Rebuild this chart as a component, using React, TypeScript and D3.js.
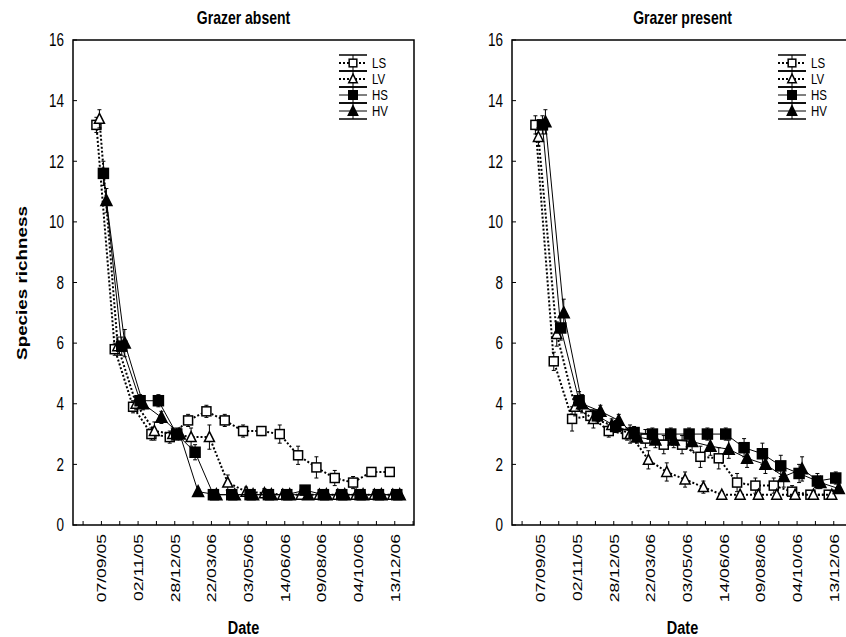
import React from "react";
import * as d3 from "d3";

// Tick positions 0..18; sampling dates sit at positions 1..17
const tickLabels = ["", "07/09/05", "", "02/11/05", "", "28/12/05", "", "22/03/06", "", "03/05/06", "", "14/06/06", "", "09/08/06", "", "04/10/06", "", "13/12/06", ""];
const seriesNames = ["LS", "LV", "HS", "HV"];
const yTicks = [0, 2, 4, 6, 8, 10, 12, 14, 16];

// Grazer absent
const absentLS = [13.2, 5.8, 3.9, 3.0, 2.9, 3.45, 3.75, 3.45, 3.1, 3.1, 3.0, 2.3, 1.9, 1.55, 1.4, 1.75, 1.75];
const absentLV = [13.4, 5.9, 4.0, 3.1, 3.0, 2.9, 2.9, 1.4, 1.1, 1.05, 1.0, 1.0, 1.0, 1.0, 1.0, 1.0, 1.0];
const absentHS = [11.6, 5.9, 4.1, 4.1, 3.0, 2.4, 1.0, 1.0, 1.0, 1.0, 1.0, 1.15, 1.0, 1.0, 1.0, 1.0, 1.0];
const absentHV = [10.7, 6.0, 4.0, 3.55, 3.0, 1.1, 1.0, 1.0, 1.0, 1.0, 1.0, 1.0, 1.0, 1.0, 1.0, 1.0, 1.0];
const absentLSe = [0.25, 0.2, 0.2, 0.2, 0.2, 0.2, 0.2, 0.2, 0.2, 0.15, 0.3, 0.3, 0.35, 0.25, 0.2, 0.1, 0.1];
const absentLVe = [0.3, 0.3, 0.2, 0.3, 0.2, 0.3, 0.4, 0.25, 0.15, 0.15, 0.1, 0.15, 0.15, 0.15, 0.15, 0.1, 0.1];
const absentHSe = [0.4, 0.3, 0.2, 0.2, 0.2, 0.25, 0.05, 0.05, 0.05, 0.05, 0.05, 0.15, 0.05, 0.05, 0.05, 0.05, 0.05];
const absentHVe = [0.4, 0.45, 0.2, 0.2, 0.2, 0.1, 0.05, 0.05, 0.05, 0.05, 0.05, 0.05, 0.05, 0.05, 0.05, 0.05, 0.05];

// Grazer present
const presentLS = [13.2, 5.4, 3.5, 3.6, 3.1, 3.0, 2.85, 2.65, 2.65, 2.25, 2.2, 1.4, 1.3, 1.3, 1.1, 1.0, 1.0];
const presentLV = [12.8, 6.3, 3.9, 3.5, 3.3, 3.0, 2.15, 1.75, 1.5, 1.25, 1.0, 1.0, 1.0, 1.0, 1.0, 1.0, 1.0];
const presentHS = [13.2, 6.5, 4.1, 3.6, 3.25, 3.05, 3.0, 3.0, 3.0, 3.0, 3.0, 2.55, 2.35, 1.95, 1.7, 1.45, 1.55];
const presentHV = [13.3, 7.0, 4.0, 3.75, 3.45, 2.9, 2.8, 2.8, 2.75, 2.6, 2.5, 2.2, 2.0, 1.6, 1.85, 1.4, 1.2];
const presentLSe = [0.3, 0.3, 0.4, 0.2, 0.2, 0.2, 0.3, 0.3, 0.3, 0.35, 0.35, 0.3, 0.25, 0.25, 0.2, 0.1, 0.1];
const presentLVe = [0.3, 0.4, 0.3, 0.3, 0.2, 0.3, 0.3, 0.3, 0.25, 0.2, 0.1, 0.1, 0.15, 0.15, 0.1, 0.1, 0.1];
const presentHSe = [0.3, 0.4, 0.3, 0.2, 0.2, 0.2, 0.2, 0.2, 0.2, 0.2, 0.2, 0.3, 0.35, 0.35, 0.3, 0.25, 0.2];
const presentHVe = [0.4, 0.45, 0.3, 0.2, 0.2, 0.2, 0.25, 0.25, 0.3, 0.3, 0.3, 0.3, 0.3, 0.35, 0.4, 0.2, 0.15];

const W = 846;
const H = 637;
const FONT = "Arial, 'Liberation Sans', sans-serif";
const SY = 1.3; // vertical stretch of the text in the original picture

const styles: Record<string, { offset: number; dash: string | null; width: number; marker: string; filled: boolean }> = {
  LS: { offset: -5, dash: "2,2", width: 2, marker: "square", filled: false },
  LV: { offset: -2, dash: "2,2", width: 2, marker: "triangle", filled: false },
  HS: { offset: 2, dash: null, width: 1, marker: "square", filled: true },
  HV: { offset: 5, dash: null, width: 1, marker: "triangle", filled: true },
};

function Marker({ kind, filled, x, y, s = 1 }: { kind: string; filled: boolean; x: number; y: number; s?: number }) {
  if (kind === "square") {
    const a = (filled ? 10 : 9) * s;
    return <rect x={x - a / 2} y={y - a / 2} width={a} height={a} fill={filled ? "#000" : "#fff"} stroke="#000" strokeWidth={1.5} />;
  }
  const a = (filled ? 11 : 10) * s;
  const h = a * 0.9;
  const p = `M${x},${y - h / 2 - 1}L${x + a / 2},${y + h / 2}L${x - a / 2},${y + h / 2}Z`;
  return <path d={p} fill={filled ? "#000" : "#fff"} stroke="#000" strokeWidth={1.5} strokeLinejoin="miter" />;
}

function Panel({ x0, x1, title, data, errs, showYLabel }: { x0: number; x1: number; title: string; data: number[][]; errs: number[][]; showYLabel: boolean }) {
  const y = d3.scaleLinear().domain([0, 16]).range([525, 40]);
  const x = d3.scaleLinear().domain([-0.55, 18.05]).range([x0, x1]);
  const cx = (x0 + Math.min(x1, 414 + (x0 - 73))) / 2;
  const ticksIdx = d3.range(0, 19);
  const legX = x0 + 280;
  return (
    <g>
      {/* frame */}
      <path d={`M${x0},${y(0)}L${x1},${y(0)}L${x1},${y(16)}L${x0},${y(16)}Z`} fill="none" stroke="#000" strokeWidth={1.5} />
      {/* y ticks */}
      {yTicks.map((t) => (
        <g key={"y" + t}>
          <line x1={x0} x2={x0 + 4} y1={y(t)} y2={y(t)} stroke="#000" strokeWidth={1} />
          <text transform={`translate(${x0 - 9},${y(t)}) scale(1,${SY})`} textAnchor="end" dy="0.36em" fontSize={13.5} fontFamily={FONT}>
            {t}
          </text>
        </g>
      ))}
      {/* x ticks */}
      {ticksIdx.map((i) => (
        <g key={"x" + i}>
          <line x1={x(i)} x2={x(i)} y1={y(0)} y2={y(0) - 4} stroke="#000" strokeWidth={1} />
          {tickLabels[i] ? (
            <text transform={`translate(${x(i)},${534}) scale(1,${SY}) rotate(-90)`} textAnchor="end" dy="0.36em" fontSize={13.5} fontFamily={FONT}>
              {tickLabels[i]}
            </text>
          ) : null}
        </g>
      ))}
      {/* series */}
      {seriesNames.map((name, k) => {
        const st = styles[name];
        const vals = data[k];
        const px = (i: number) => x(i + 1) + st.offset;
        const line = d3
          .line<number>()
          .x((_, i) => px(i))
          .y((v) => y(v));
        return (
          <g key={name}>
            <path d={line(vals) || ""} fill="none" stroke="#000" strokeWidth={st.width} strokeDasharray={st.dash || undefined} />
            {vals.map((v, i) => (
              <g key={i}>
                <line x1={px(i)} x2={px(i)} y1={y(v - errs[k][i])} y2={y(v + errs[k][i])} stroke="#000" strokeWidth={1} />
                <line x1={px(i) - 2} x2={px(i) + 2} y1={y(v + errs[k][i])} y2={y(v + errs[k][i])} stroke="#000" strokeWidth={1} />
                <line x1={px(i) - 2} x2={px(i) + 2} y1={y(v - errs[k][i])} y2={y(v - errs[k][i])} stroke="#000" strokeWidth={1} />
              </g>
            ))}
            {vals.map((v, i) => (
              <Marker key={"m" + i} kind={st.marker} filled={st.filled} x={px(i)} y={y(v)} />
            ))}
          </g>
        );
      })}
      {/* legend */}
      {seriesNames.map((name, k) => {
        const st = styles[name];
        const ly = 63 + k * 16;
        return (
          <g key={"leg" + name}>
            <line x1={legX - 14} x2={legX + 14} y1={ly - 8} y2={ly - 8} stroke="#000" strokeWidth={1.5} />
            <line x1={legX - 14} x2={legX + 14} y1={ly + 8} y2={ly + 8} stroke="#000" strokeWidth={1.5} />
            <line x1={legX} x2={legX} y1={ly - 8} y2={ly + 8} stroke="#000" strokeWidth={1} />
            <line x1={legX - 14} x2={legX + 14} y1={ly} y2={ly} stroke="#000" strokeWidth={st.width} strokeDasharray={st.dash || undefined} />
            <Marker kind={st.marker} filled={st.filled} x={legX} y={ly} s={0.85} />
            <text transform={`translate(${legX + 19},${ly}) scale(1,1.2)`} dy="0.36em" fontSize={11.5} fontFamily={FONT}>
              {name}
            </text>
          </g>
        );
      })}
      {/* titles */}
      <text transform={`translate(${cx},${24}) scale(1,${SY})`} textAnchor="middle" fontSize={14} fontWeight="bold" fontFamily={FONT}>
        {title}
      </text>
      <text transform={`translate(${cx},${634}) scale(1,${SY})`} textAnchor="middle" fontSize={14.5} fontWeight="bold" fontFamily={FONT}>
        Date
      </text>
      {showYLabel ? (
        <text transform={`translate(${22},${283}) scale(1,${SY}) rotate(-90)`} textAnchor="middle" dy="0.36em" fontSize={14.5} fontWeight="bold" fontFamily={FONT}>
          Species richness
        </text>
      ) : null}
    </g>
  );
}

export default function App() {
  return (
    <svg width={W} height={H} style={{ position: "absolute", left: 0, top: 0, background: "#fff" }}>
      <rect width={W} height={H} fill="#fff" />
      <Panel
        x0={73}
        x1={414}
        title="Grazer absent"
        data={[absentLS, absentLV, absentHS, absentHV]}
        errs={[absentLSe, absentLVe, absentHSe, absentHVe]}
        showYLabel={true}
      />
      <Panel
        x0={512}
        x1={853}
        title="Grazer present"
        data={[presentLS, presentLV, presentHS, presentHV]}
        errs={[presentLSe, presentLVe, presentHSe, presentHVe]}
        showYLabel={false}
      />
    </svg>
  );
}
